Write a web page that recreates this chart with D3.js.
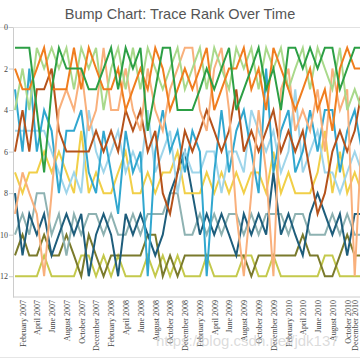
<!DOCTYPE html>
<html lang="en">
<head>
  <meta charset="UTF-8">
  <script src="https://cdn.jsdelivr.net/npm/d3@7"></script>
  <title>Bump Chart</title>
  <style>
    body { margin: 0; background: #fff; }
    svg { display: block; }
    .axis text { font-family: "Liberation Serif", "Times New Roman", serif; font-size: 8px; fill: #444; }
    .axis path, .axis line { stroke: #ccc; }
  </style>
</head>
<body>
  <svg width="360" height="360" id="bump"></svg>
  <script>
    // rank of each trace per month, Jan 2007 .. Dec 2010
    const rankG = [1,1,1,4,7,3,1,2, 2,2,3,3,2,1,3,1, 2,1,5,3,1,1,4,4, 4,3,2,3,2,1,4,3, 2,1,3,2,4,1,1,2, 1,2,1,1,3,2,1,1];
    const rankL = [4,2,4,1,2,1,2,1, 3,1,2,1,4,2,1,3, 1,3,1,2,3,2,1,3, 2,1,3,1,2,3,1,2, 1,3,1,2,1,3,2,1, 3,1,2,3,1,4,3,4];
    const rankO = [2,3,3,2,1,3,3,3, 1,3,1,2,3,3,2,4, 3,2,3,1,2,4,3,2, 3,2,1,4,3,2,2,1, 3,2,4,1,2,3,4,3, 2,4,3,5,2,1,2,2];
    const rankP = [9,7,8,9,12,8,4,3, 4,2,5,4,1,4,4,2, 4,5,2,4,5,3,2,1, 1,4,5,2,1,4,9,12, 8,4,7,12,3,2,5,4, 5,3,6,2,4,3,12,5];
    const rankR = [6,4,6,3,3,2,5,6, 6,6,6,5,6,5,6,4, 5,4,6,5,8,9,7,5, 6,5,4,5,6,5,3,6, 5,6,5,4,6,5,6,5, 7,9,8,6,5,6,5,3];
    const rankC = [3,6,2,6,4,5,8,5, 5,4,7,8,5,7,9,5, 7,6,12,6,4,6,5,7, 5,6,12,7,4,7,5,4, 6,8,2,7,5,4,7,6, 4,6,4,4,7,5,4,6];
    const rankB = [5,5,5,5,5,6,7,8, 7,8,4,6,7,6,5,7, 6,7,4,7,6,5,8,6, 7,7,6,6,8,6,6,7, 4,5,6,5,7,6,3,7, 6,5,7,7,8,7,6,7];
    const rankY = [7,8,7,7,6,7,6,7, 8,5,8,7,8,8,7,6, 8,8,7,8,7,7,6,8, 8,8,7,8,7,8,7,8, 7,7,8,6,8,7,8,8, 8,7,5,8,6,8,7,8];
    const rankD = [8,11,9,10,9,11,10,9, 10,9,12,10,9,10,12,9, 10,9,10,11,10,8,7,6, 8,10,9,10,9,10,11,9, 10,9,10,7,10,9,10,11, 9,8,9,10,9,11,9,9];
    const rankT = [10,9,10,8,8,10,9,11, 9,10,9,9,10,9,10,10, 9,10,9,9,9,8,8,10, 10,9,10,9,10,9,9,10, 9,10,9,9,9,10,9,9, 10,10,10,9,10,9,10,10];
    const rankV = [11,10,11,11,10,11,11,10, 11,12,10,11,12,11,11,11, 11,11,10,10,12,11,12,11, 11,11,11,11,11,11,11,11, 12,11,11,11,11,11,11,10, 11,11,12,12,11,10,11,11];
    const rankW = [12,12,12,12,11,12,12,12, 12,11,11,12,11,12,11,12, 12,12,11,12,11,12,11,12, 12,12,11,12,12,12,12,11, 11,12,12,11,12,12,12,12, 12,12,11,11,12,12,12,12];

    const traceRanks = [rankW, rankV, rankT, rankD, rankY, rankB, rankC, rankR, rankP, rankL, rankO, rankG];
    const traceColors = ["#c4c94c", "#7a7a2c", "#8eb2b2", "#1e5d7b", "#f1cf48", "#9fd5ea",
                         "#31a7cf", "#b5521b", "#f9b07c", "#a9d98b", "#f07d1e", "#2c9f45"];
    const tickMonths = ["2007-02","2007-04","2007-06","2007-08","2007-10","2007-12",
                        "2008-02","2008-04","2008-06","2008-08","2008-10","2008-12",
                        "2009-02","2009-04","2009-06","2009-08","2009-10","2009-12",
                        "2010-02","2010-04","2010-06","2010-08","2010-10","2010-12"];
    const rankTicks = [0, 2, 4, 6, 8, 10, 12];

    let svg = d3.select("#bump");
    let parseMonth = d3.timeParse("%Y-%m");

    let months = d3.timeMonth.range(new Date(2007, 0, 1), new Date(2011, 0, 1));

    /* SCALES */
    let x = d3.scaleTime()
      .domain([months[0], months[months.length - 1]])
      .range([15, 362]);
    let y = d3.scaleLinear()
      .domain([0, 13])
      .range([27, 297]);

    //title and divider
    svg.append("text")
      .text("Bump Chart: Trace Rank Over Time")
      .attr("x", 180)
      .attr("y", 19)
      .attr("text-anchor", "middle")
      .style("font-family", "'Liberation Sans', Arial, sans-serif")
      .style("font-size", "14.5px")
      .style("fill", "#555");
    svg.append("line")
      .attr("x1", 0).attr("x2", 360)
      .attr("y1", 27.5).attr("y2", 27.5)
      .style("stroke", "#e2e2e2");

    /* AXES */
    let yAxis = svg.append("g")
      .attr("class", "axis")
      .attr("transform", "translate(13,0)")
      .call(d3.axisLeft(y).tickValues(rankTicks).tickSize(4).tickSizeOuter(0));
    yAxis.selectAll("text").attr("x", -5);

    let xAxis = svg.append("g")
      .attr("class", "axis")
      .attr("transform", "translate(0,297)")
      .call(d3.axisBottom(x)
        .tickValues(tickMonths.map(parseMonth))
        .tickFormat(d3.timeFormat("%B %Y"))
        .tickSize(0));
    xAxis.select(".domain").remove();
    xAxis.selectAll("text")
      .attr("transform", "rotate(-90)")
      .attr("x", -3)
      .attr("y", d => Math.min(0, 355 - x(d))) // keep the last label inside the page
      .attr("dy", "0.35em")
      .style("text-anchor", "end");
    xAxis.append("line")
      .attr("x1", 13).attr("x2", 360)
      .style("stroke", "#ccc");

    /* PLOT DATA */
    let line = d3.line()
      .x((d, i) => x(months[i]))
      .y(d => y(d));

    svg.selectAll(".trace")
      .data(traceRanks)
      .enter()
      .append("path")
      .attr("class", "trace")
      .attr("d", line)
      .attr("fill", "none")
      .attr("stroke", (d, i) => traceColors[i])
      .attr("stroke-width", 2);

    //watermark and bottom border
    svg.append("text")
      .text("https://blog.csdn.net/jdk137")
      .attr("x", 156)
      .attr("y", 346)
      .style("font-family", "'Liberation Sans', Arial, sans-serif")
      .style("font-size", "15px")
      .style("fill", "rgba(190,190,190,0.55)");
    svg.append("line")
      .attr("x1", 0).attr("x2", 360)
      .attr("y1", 357.5).attr("y2", 357.5)
      .style("stroke", "#e6e6e6");
  </script>
</body>
</html>
